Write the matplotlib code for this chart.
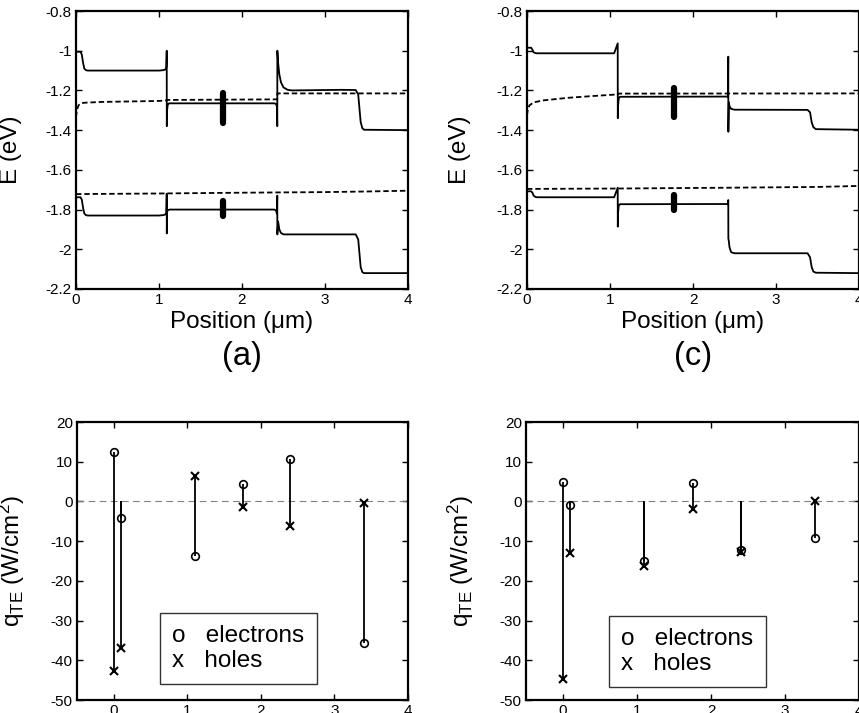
import matplotlib
matplotlib.use("Agg")
import matplotlib.pyplot as plt
from matplotlib.lines import Line2D

plt.rcParams['font.family'] = ['Liberation Sans', 'DejaVu Sans']
plt.rcParams['mathtext.fontset'] = 'custom'
plt.rcParams['mathtext.rm'] = 'Liberation Sans'
plt.rcParams['mathtext.it'] = 'Liberation Sans:italic'
plt.rcParams['axes.unicode_minus'] = False

# ---------------- panel (a) band diagram ----------------
a_cb_x = [0.0, 0.055, 0.07, 0.085, 0.10, 0.12, 0.14, 1.00, 1.05, 1.075, 1.088, 1.093, 1.094, 1.097, 1.105, 1.12,
          2.39, 2.41, 2.42, 2.425, 2.426, 2.435, 2.45, 2.47, 2.50, 2.55, 2.60, 3.20, 3.37, 3.40, 3.415, 3.43, 3.45, 3.47, 4.0]
a_cb_y = [-1.005, -1.005, -1.02, -1.06, -1.09, -1.098, -1.10, -1.10, -1.098, -1.095, -1.085, -1.0, -1.38, -1.30, -1.272, -1.265,
          -1.265, -1.268, -1.28, -1.38, -1.0, -1.06, -1.12, -1.16, -1.185, -1.197, -1.20, -1.197, -1.198, -1.22, -1.29, -1.36, -1.39, -1.398, -1.40]
a_efn_x = [0.0, 0.01, 0.03, 0.06, 0.10, 0.30, 1.0, 1.093, 1.094, 2.425, 2.426, 4.0]
a_efn_y = [-1.335, -1.30, -1.275, -1.265, -1.262, -1.258, -1.253, -1.250, -1.248, -1.245, -1.215, -1.215]
a_efp_x = [0.0, 1.0, 2.0, 3.0, 3.5, 4.0]
a_efp_y = [-1.722, -1.719, -1.715, -1.712, -1.709, -1.705]
a_vb_x = [0.0, 0.055, 0.07, 0.085, 0.10, 0.12, 0.14, 1.00, 1.05, 1.075, 1.088, 1.093, 1.094, 1.097, 1.11, 1.13,
          2.39, 2.41, 2.42, 2.425, 2.426, 2.435, 2.45, 2.47, 2.50, 3.37, 3.40, 3.415, 3.43, 3.45, 3.47, 4.0]
a_vb_y = [-1.738, -1.738, -1.75, -1.79, -1.82, -1.828, -1.83, -1.83, -1.828, -1.825, -1.818, -1.72, -1.92, -1.81, -1.802, -1.80,
          -1.80, -1.805, -1.82, -1.73, -1.925, -1.86, -1.90, -1.918, -1.925, -1.925, -1.95, -2.02, -2.09, -2.115, -2.12, -2.12]
a_well_x = 1.77
a_well_cb = (-1.214, -1.362)
a_well_vb = (-1.757, -1.832)

# ---------------- panel (c) band diagram ----------------
c_cb_x = [0.0, 0.05, 0.065, 0.08, 0.10, 0.12, 1.05, 1.093, 1.094, 1.097, 1.105, 1.12, 2.40, 2.42, 2.425, 2.426,
          2.432, 2.44, 2.46, 2.50, 3.38, 3.41, 3.43, 3.45, 3.48, 4.0]
c_cb_y = [-0.985, -0.985, -0.995, -1.008, -1.012, -1.013, -1.013, -0.963, -1.34, -1.28, -1.24, -1.232, -1.231, -1.232, -1.03, -1.408,
          -1.26, -1.28, -1.293, -1.297, -1.298, -1.31, -1.36, -1.385, -1.395, -1.398]
c_efn_x = [0.0, 0.01, 0.03, 0.08, 0.2, 0.5, 0.8, 1.093, 1.094, 4.0]
c_efn_y = [-1.325, -1.295, -1.275, -1.26, -1.25, -1.237, -1.228, -1.22, -1.216, -1.215]
c_efp_x = [0.0, 1.1, 2.4, 3.5, 4.0]
c_efp_y = [-1.696, -1.694, -1.690, -1.686, -1.681]
c_vb_x = [0.0, 0.05, 0.065, 0.08, 0.10, 0.12, 1.05, 1.093, 1.094, 1.097, 1.105, 1.12, 2.40, 2.42, 2.425, 2.426,
          2.432, 2.44, 2.46, 2.50, 3.38, 3.41, 3.43, 3.45, 3.48, 4.0]
c_vb_y = [-1.708, -1.708, -1.715, -1.73, -1.736, -1.738, -1.738, -1.69, -1.886, -1.82, -1.78, -1.773, -1.772, -1.773, -1.752, -1.945,
          -1.96, -1.99, -2.015, -2.02, -2.02, -2.04, -2.09, -2.112, -2.118, -2.12]
c_well_x = 1.768
c_well_cb = (-1.189, -1.332)
c_well_vb = (-1.727, -1.802)

# ---------------- thermionic heat flux ----------------
q_pos = [0.0, 0.1, 1.1, 1.75, 2.4, 3.4]
qe_a = [12.4, -4.1, -13.7, 4.4, 10.7, -35.7]
qh_a = [-42.6, -37.0, 6.4, -1.5, -6.1, -0.4]
qe_c = [4.9, -0.9, -15.0, 4.7, -12.3, -9.2]
qh_c = [-44.8, -12.9, -16.2, -1.8, -12.8, 0.0]

e_ticks = [-2.2, -2.0, -1.8, -1.6, -1.4, -1.2, -1.0, -0.8]
e_ticklabels = ['-2.2', '-2', '-1.8', '-1.6', '-1.4', '-1.2', '-1', '-0.8']
x_ticks = [0, 1, 2, 3, 4]
q_ticks = [-50, -40, -30, -20, -10, 0, 10, 20]
panel_labels = ['(a)', '(c)']
legend_labels = ['o   electrons', 'x   holes']

W, H = 859, 713
fig = plt.figure(figsize=(W / 100, H / 100), dpi=100)


def px_axes(l, r, t, b):
    return fig.add_axes([l / W, 1 - b / H, (r - l) / W, (b - t) / H])


def style(ax):
    for s in ax.spines.values():
        s.set_linewidth(1.6)
    ax.tick_params(direction='in', top=True, right=True, length=4, width=1.0,
                   labelsize=11, pad=3)


lw = 1.3
band_axes = [px_axes(76, 408, 11, 289), px_axes(527, 859, 11, 289)]
bands = [
    (a_cb_x, a_cb_y, a_efn_x, a_efn_y, a_efp_x, a_efp_y, a_vb_x, a_vb_y, a_well_x, a_well_cb, a_well_vb),
    (c_cb_x, c_cb_y, c_efn_x, c_efn_y, c_efp_x, c_efp_y, c_vb_x, c_vb_y, c_well_x, c_well_cb, c_well_vb),
]
ylab_x = [-0.163, -0.169]
for ax, b, yl in zip(band_axes, bands, ylab_x):
    cbx, cby, fnx, fny, fpx, fpy, vbx, vby, wx, wcb, wvb = b
    ax.plot(cbx, cby, color='black', lw=lw)
    ax.plot(vbx, vby, color='black', lw=lw)
    ax.plot(fnx, fny, color='black', lw=lw, dashes=(3, 1.6))
    ax.plot(fpx, fpy, color='black', lw=lw, dashes=(3, 1.6))
    ax.vlines([wx], [wcb[0]], [wcb[1]], color='black', lw=4.5, capstyle='round')
    ax.vlines([wx], [wvb[0]], [wvb[1]], color='black', lw=4.5, capstyle='round')
    ax.set_xlim(0, 4)
    ax.set_ylim(-2.2, -0.8)
    ax.set_xticks(x_ticks)
    ax.set_yticks(e_ticks)
    ax.set_yticklabels(e_ticklabels)
    style(ax)
    ax.set_xlabel('Position (\u03bcm)', fontsize=17.5, labelpad=3)
    ax.set_ylabel('E (eV)', fontsize=17.5)
    ax.yaxis.set_label_coords(yl, 0.5)

for ax, lab in zip(band_axes, panel_labels):
    pos = ax.get_position()
    fig.text(pos.x0 + pos.width / 2, 1 - 356 / H, lab, fontsize=23.5, ha='center', va='center')

q_axes = [px_axes(77, 408, 422, 700), px_axes(526, 859, 422, 700)]
qdata = [(qe_a, qh_a), (qe_c, qh_c)]
leg_boxes = [(0.251, 0.058), (0.25, 0.047)]
qlab_x = [-0.151, -0.150]
for ax, (qe, qh), lb, yl in zip(q_axes, qdata, leg_boxes, qlab_x):
    ax.axhline(0, color='#808080', lw=0.8, dashes=(6, 4))
    ax.vlines(q_pos, 0, qe, color='black', lw=1.3)
    ax.vlines(q_pos, 0, qh, color='black', lw=1.3)
    ax.plot(q_pos, qe, 'o', ls='none', mfc='none', mec='black', mew=1.2, ms=5.5)
    ax.plot(q_pos, qh, 'x', ls='none', color='black', mew=1.5, ms=5.5)
    ax.set_xlim(-0.5, 4)
    ax.set_ylim(-50, 20)
    ax.set_xticks(x_ticks)
    ax.set_yticks(q_ticks)
    style(ax)
    ax.set_ylabel(r'q$_{\mathregular{TE}}$ (W/cm$^{\mathregular{2}}$)', fontsize=17.5)
    ax.yaxis.set_label_coords(yl, 0.5)
    handles = [Line2D([], [], ls='none'), Line2D([], [], ls='none')]
    leg = ax.legend(handles, legend_labels, loc='lower left', bbox_to_anchor=lb,
                    fontsize=17.5, handlelength=0, handletextpad=0, frameon=True, fancybox=False,
                    edgecolor='black', borderpad=0.5, labelspacing=0.1, borderaxespad=0)
    leg.get_frame().set_linewidth(1.0)

fig.savefig('out.png', dpi=100)
